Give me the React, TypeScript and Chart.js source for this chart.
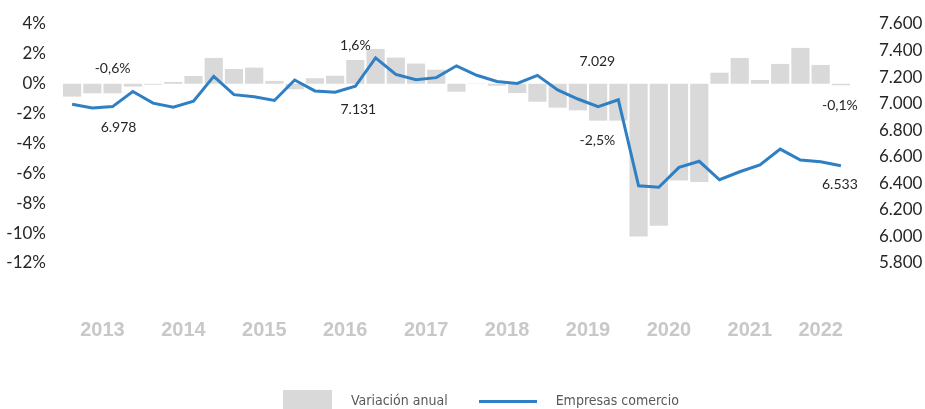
import React, { useEffect, useRef } from 'react';
import { Chart, registerables } from 'chart.js';

Chart.register(...registerables);

// Quarterly observations, 2013 T1 .. 2022 T3
const quarters = [
  '2013 T1', '2013 T2', '2013 T3', '2013 T4',
  '2014 T1', '2014 T2', '2014 T3', '2014 T4',
  '2015 T1', '2015 T2', '2015 T3', '2015 T4',
  '2016 T1', '2016 T2', '2016 T3', '2016 T4',
  '2017 T1', '2017 T2', '2017 T3', '2017 T4',
  '2018 T1', '2018 T2', '2018 T3', '2018 T4',
  '2019 T1', '2019 T2', '2019 T3', '2019 T4',
  '2020 T1', '2020 T2', '2020 T3', '2020 T4',
  '2021 T1', '2021 T2', '2021 T3', '2021 T4',
  '2022 T1', '2022 T2', '2022 T3',
];

const years = ['2013', '2014', '2015', '2016', '2017', '2018', '2019', '2020', '2021', '2022'];

// Variación anual (%), left axis
const variacionAnual = [
  -0.86, -0.64, -0.64, -0.19,
  -0.06, 0.12, 0.52, 1.73,
  0.99, 1.08, 0.19, -0.37,
  0.37, 0.54, 1.59, 2.33,
  1.75, 1.35, 0.94, -0.53,
  0.02, -0.13, -0.62, -1.2,
  -1.6, -1.78, -2.47, -2.47,
  -10.23, -9.5, -6.48, -6.57,
  0.74, 1.73, 0.25, 1.33,
  2.4, 1.26, -0.1,
];

// Empresas comercio, right axis
const empresasComercio = [
  6995, 6967, 6978, 7092,
  7004, 6973, 7018, 7206,
  7068, 7052, 7024, 7178,
  7096, 7086, 7131, 7345,
  7220, 7180, 7196, 7285,
  7214, 7167, 7152, 7213,
  7104, 7035, 6977, 7029,
  6382, 6370, 6520, 6566,
  6427, 6487, 6538, 6658,
  6575, 6563, 6533,
];

// Indices of the quarters that carry value labels
const labelledQuarters = [2, 14, 27, 38];

const leftMin = -12;
const leftMax = 4;
const leftStep = 2;
const rightMin = 5800;
const rightMax = 7600;
const rightStep = 200;

// Label placement (style): offsets relative to the element
const barLabelOffsets: Record<number, [number, number]> = {
  2: [0, -25],
  14: [0, -15],
  27: [-21, 20],
  38: [-1, 20],
};
const lineLabelOffsets: Record<number, [number, number]> = {
  2: [6, 21],
  14: [3, 23],
  27: [-21, -38],
  38: [-1, 19],
};

const fmtThousands = (v: number) => String(Math.round(v)).replace(/\B(?=(\d{3})+(?!\d))/g, '.');
const fmtPct = (v: number) => v.toFixed(1).replace('.', ',') + '%';

const yearPositions = years.map((y) => {
  const idx = quarters.map((q, i) => (q.startsWith(y) ? i : -1)).filter((i) => i >= 0);
  return idx.reduce((a, b) => a + b, 0) / idx.length;
});

const LINE_COLOR = '#2F7FC4';
const BAR_COLOR = '#D9D9D9';
const TEXT_COLOR = '#262626';
const LEGEND_FONT = "'DejaVu Sans Condensed', 'Liberation Sans', sans-serif";

const valueLabelsPlugin = {
  id: 'valueLabels',
  afterDatasetsDraw(chart: any) {
    const ctx = chart.ctx;
    ctx.save();
    ctx.font = '14px Lato';
    ctx.fillStyle = TEXT_COLOR;
    ctx.textAlign = 'center';
    ctx.textBaseline = 'middle';
    const barMeta = chart.getDatasetMeta(0);
    const lineMeta = chart.getDatasetMeta(1);
    labelledQuarters.forEach((i) => {
      const b = barMeta.data[i];
      const [bdx, bdy] = barLabelOffsets[i];
      ctx.fillText(fmtPct(variacionAnual[i]), b.x + bdx, b.y + bdy);
      const p = lineMeta.data[i];
      const [ldx, ldy] = lineLabelOffsets[i];
      ctx.fillText(fmtThousands(empresasComercio[i]), p.x + ldx, p.y + ldy);
    });
    ctx.restore();
  },
};

function makeSwatch(w: number, h: number, color: string) {
  const c = document.createElement('canvas');
  c.width = w;
  c.height = h;
  const g = c.getContext('2d')!;
  g.fillStyle = color;
  g.fillRect(0, 0, w, h);
  return c;
}

export default function App() {
  const canvasRef = useRef<HTMLCanvasElement | null>(null);

  useEffect(() => {
    if (!canvasRef.current) return;
    const barSwatch = makeSwatch(49, 22, BAR_COLOR);
    const lineSwatch = makeSwatch(58, 3, LINE_COLOR);
    const chart = new Chart(canvasRef.current, {
      type: 'bar',
      data: {
        labels: quarters,
        datasets: [
          {
            type: 'bar',
            label: 'Variación anual',
            data: variacionAnual,
            backgroundColor: BAR_COLOR,
            borderWidth: 0,
            barPercentage: 0.9,
            categoryPercentage: 1,
            yAxisID: 'y',
            xAxisID: 'x',
            order: 2,
          } as any,
          {
            type: 'line',
            label: 'Empresas comercio',
            data: empresasComercio,
            borderColor: LINE_COLOR,
            backgroundColor: LINE_COLOR,
            borderWidth: 3,
            pointRadius: 0,
            pointHoverRadius: 0,
            tension: 0,
            fill: false,
            yAxisID: 'y1',
            xAxisID: 'x',
            order: 1,
          } as any,
        ],
      },
      options: {
        responsive: false,
        maintainAspectRatio: false,
        animation: false,
        events: [],
        layout: { padding: { top: 24, left: 0, right: -32, bottom: 0 } },
        plugins: {
          tooltip: { enabled: false },
          legend: {
            position: 'bottom',
            labels: {
              usePointStyle: true,
              pointStyleWidth: 58,
              padding: 31,
              color: '#595959',
              font: { family: LEGEND_FONT, size: 14 },
              sort: (a: any, b: any) => a.datasetIndex - b.datasetIndex,
              generateLabels: (c: any) =>
                Chart.defaults.plugins.legend.labels
                  .generateLabels(c)
                  .map((l: any) => ({
                    ...l,
                    text: (l.datasetIndex === 0 ? '  ' : '   ') + l.text,
                    pointStyle: l.datasetIndex === 0 ? barSwatch : lineSwatch,
                  })),
            },
          },
        },
        scales: {
          x: {
            type: 'category',
            display: false,
            offset: true,
          },
          xYear: {
            type: 'linear',
            position: 'bottom',
            offset: false,
            bounds: 'data',
            min: -0.5,
            max: quarters.length - 0.5,
            grid: { display: false, drawTicks: true, tickLength: 53, offset: false },
            border: { display: false },
            afterBuildTicks: (axis: any) => {
              axis.ticks = yearPositions.map((v) => ({ value: v }));
            },
            afterFit: (axis: any) => {
              axis.height = 100;
            },
            ticks: {
              autoSkip: false,
              maxRotation: 0,
              minRotation: 0,
              padding: 2,
              color: '#C8C8C8',
              font: { family: "'Liberation Sans', Arial, sans-serif", size: 20, weight: 'bold' },
              callback: (v: any) => {
                const k = yearPositions.findIndex((p) => Math.abs(p - Number(v)) < 1e-6);
                return k >= 0 ? years[k] : '';
              },
            },
          },
          y: {
            type: 'linear',
            position: 'left',
            min: leftMin,
            max: leftMax,
            grid: { display: false, drawTicks: true, tickLength: 14 },
            border: { display: false },
            afterFit: (axis: any) => {
              axis.width = 62;
            },
            ticks: {
              stepSize: leftStep,
              padding: 2,
              color: TEXT_COLOR,
              font: { family: 'Lato', size: 17 },
              callback: (v: any) => `${v}%`,
            },
          },
          y1: {
            type: 'linear',
            position: 'right',
            min: rightMin,
            max: rightMax,
            grid: { display: false, drawTicks: true, tickLength: 26 },
            border: { display: false },
            afterFit: (axis: any) => {
              axis.width = 106;
            },
            ticks: {
              stepSize: rightStep,
              padding: 2,
              color: TEXT_COLOR,
              font: { family: 'Lato', size: 17 },
              callback: (v: any) => fmtThousands(Number(v)),
            },
          },
        } as any,
      },
      plugins: [valueLabelsPlugin],
    });
    return () => chart.destroy();
  }, []);

  return (
    <div style={{ width: 925, height: 409, overflow: 'hidden', background: '#fff' }}>
      <style>{'body{margin:0;overflow:hidden;background:#fff}'}</style>
      <canvas ref={canvasRef} width={925} height={418} style={{ display: 'block' }} />
    </div>
  );
}
